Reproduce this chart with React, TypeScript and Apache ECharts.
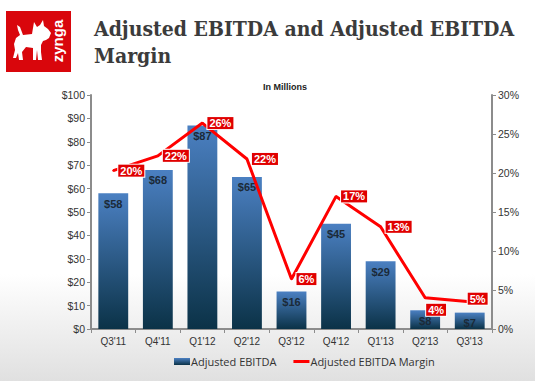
import React, { useEffect, useRef } from "react";
import * as echarts from "echarts";

const categories = ["Q3'11", "Q4'11", "Q1'12", "Q2'12", "Q3'12", "Q4'12", "Q1'13", "Q2'13", "Q3'13"];
const ebitda = [58, 68, 87, 65, 16, 45, 29, 8, 7];
const margin = [20.3, 22.2, 26.4, 21.8, 6.4, 17, 13.1, 4, 3.5];
const marginLabels = ["20%", "22%", "26%", "22%", "6%", "17%", "13%", "4%", "5%"];
const leftTicks = { min: 0, max: 100, interval: 10 };
const rightTicks = { min: 0, max: 30, interval: 5 };

const dogPath =
  "M17,25 L20,27 L23,35 L32,34 L33,28 L34,22 L37,27 L40,25 L43,20 L44,26 L48,29 L51,33 L49,38 L46,40 L43,41 L41,45 L41,52 L42,60 L38,60 L37,50 L36,60 L33,60 L33,48 L26,47 L22,52 L23,60 L19,60 L18,53 L16,58 L13,58 L15,50 L14,44 L16,38 L20,35 L18,30 Z";

let registered = false;

export default function App() {
  const ref = useRef<HTMLDivElement>(null);
  useEffect(() => {
    if (!ref.current) return;
    if (!registered) {
      echarts.graphic.registerShape("dog", echarts.graphic.extendPath(dogPath, {}));
      registered = true;
    }
    const chart = echarts.init(ref.current, null, { renderer: "svg" });
    const labelPositions: Record<number, number[]> = { 7: [2, 7], 8: [-1, -8] };
    chart.setOption({
      animation: false,
      grid: { left: 91, right: 43, top: 95, bottom: 52, containLabel: false },
      graphic: [
        { type: "rect", shape: { x: 6, y: 11, width: 65, height: 61 }, style: { fill: "#d9060c" } },
        { type: "dog", x: 0, y: 0, style: { fill: "#ffffff" } },
        {
          type: "text",
          x: 57,
          y: 41,
          rotation: Math.PI / 2,
          style: {
            text: "zynga",
            fill: "#ffffff",
            font: "bold 15px 'Liberation Sans', Arial, sans-serif",
            align: "center",
            verticalAlign: "middle",
          },
        },
        {
          type: "text",
          x: 94,
          y: 15,
          style: {
            text: "Adjusted EBITDA and Adjusted EBITDA\nMargin",
            fill: "#3b3b3b",
            font: "bold 21px 'DejaVu Serif Condensed', 'DejaVu Serif', serif",
            lineHeight: 27,
          },
        },
        {
          type: "text",
          x: 285,
          y: 87,
          style: {
            text: "In Millions",
            fill: "#222",
            font: "bold 9px 'Liberation Sans', Arial, sans-serif",
            align: "center",
            verticalAlign: "middle",
          },
        },
      ],
      legend: {
        left: 174,
        top: 356,
        padding: 0,
        itemWidth: 16,
        itemHeight: 7,
        itemGap: 17,
        textStyle: { fontSize: 11, color: "#333", fontFamily: "'Open Sans', 'Liberation Sans', sans-serif", padding: [0, 0, 0, -4] },
        data: [
          { name: "Adjusted EBITDA", icon: "rect" },
          { name: "Adjusted EBITDA Margin", icon: "path://M0,0 L16,0 L16,3 L0,3 Z", itemStyle: { color: "#ff0000", opacity: 1 } },
        ],
      },
      xAxis: {
        type: "category",
        data: categories,
        axisLine: { lineStyle: { color: "#8c8c8c", width: 2 } },
        axisTick: { show: true, length: 4, lineStyle: { color: "#8c8c8c" } },
        axisLabel: { color: "#333", fontSize: 10, fontFamily: "'Liberation Sans', Arial, sans-serif", margin: 7 },
      },
      yAxis: [
        {
          type: "value",
          ...leftTicks,
          position: "left",
          axisLine: { show: true, lineStyle: { color: "#8c8c8c", width: 2 } },
          axisTick: { show: true, length: 4, lineStyle: { color: "#8c8c8c" } },
          splitLine: { show: false },
          axisLabel: { formatter: "${value}", color: "#333", fontSize: 10.5, fontFamily: "'Liberation Sans', Arial, sans-serif", margin: 6 },
        },
        {
          type: "value",
          ...rightTicks,
          position: "right",
          axisLine: { show: true, lineStyle: { color: "#8c8c8c", width: 2 } },
          axisTick: { show: true, length: 4, lineStyle: { color: "#8c8c8c" } },
          splitLine: { show: false },
          axisLabel: { formatter: "{value}%", color: "#333", fontSize: 10.5, fontFamily: "'Liberation Sans', Arial, sans-serif", margin: 6 },
        },
      ],
      series: [
        {
          name: "Adjusted EBITDA",
          type: "bar",
          data: ebitda,
          barWidth: "67%",
          itemStyle: {
            color: new echarts.graphic.LinearGradient(0, 0, 0, 1, [
              { offset: 0, color: "#4b80c2" },
              { offset: 1, color: "#0b3247" },
            ]),
          },
          label: {
            show: true,
            position: "insideTop",
            distance: 5,
            formatter: "${c}",
            color: "#1b2a38",
            fontSize: 11,
            fontWeight: "bold",
            fontFamily: "'Liberation Sans', Arial, sans-serif",
          },
        },
        {
          name: "Adjusted EBITDA Margin",
          type: "line",
          yAxisIndex: 1,
          data: margin.map((v, i) =>
            labelPositions[i] ? { value: v, label: { position: labelPositions[i] } } : { value: v }
          ),
          symbol: "circle",
          symbolSize: 2,
          showSymbol: true,
          lineStyle: { color: "#ff0000", width: 3 },
          itemStyle: { color: "#ff0000" },
          z: 5,
          labelLayout: { hideOverlap: false },
          label: {
            show: true,
            position: "right",
            distance: 4,
            formatter: (p: any) => marginLabels[p.dataIndex],
            color: "#ffffff",
            backgroundColor: "#e00000",
            borderColor: "#ffffff",
            borderWidth: 1,
            padding: [1, 2, 0, 2],
            fontSize: 11,
            fontWeight: "bold",
            fontFamily: "'Liberation Sans', Arial, sans-serif",
          },
        },
      ],
    });
    return () => chart.dispose();
  }, []);
  return (
    <div
      ref={ref}
      style={{
        position: "fixed",
        left: 0,
        top: 0,
        width: 535,
        height: 381,
        background: "linear-gradient(to bottom, #ffffff 0%, #ffffff 72%, #e0e0e0 100%)",
      }}
    />
  );
}
